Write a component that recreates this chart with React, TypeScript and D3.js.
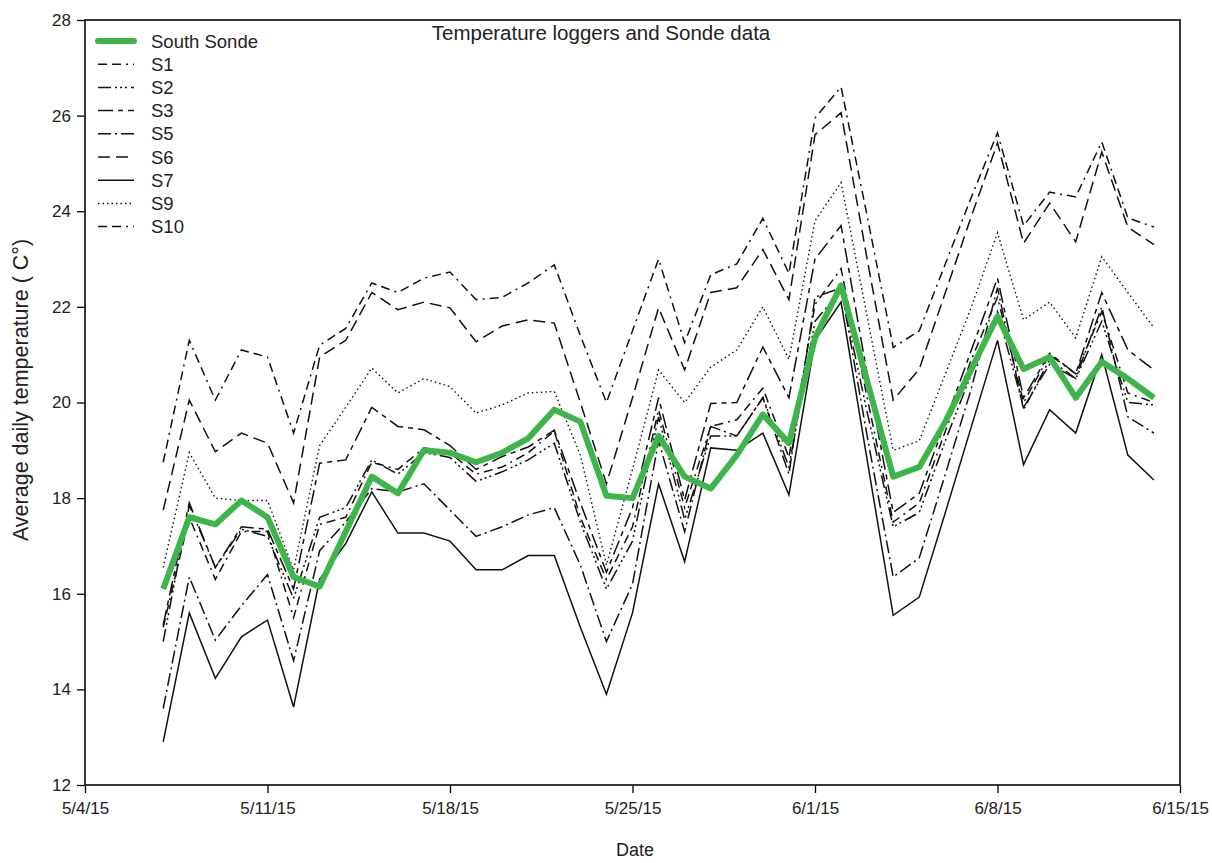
import React, { useEffect, useRef } from 'react';
import * as d3 from 'd3';

// daily dates 5/7/15 .. 6/14/15
const days = [
  '2015-05-07', '2015-05-08', '2015-05-09', '2015-05-10', '2015-05-11', '2015-05-12', '2015-05-13',
  '2015-05-14', '2015-05-15', '2015-05-16', '2015-05-17', '2015-05-18', '2015-05-19', '2015-05-20',
  '2015-05-21', '2015-05-22', '2015-05-23', '2015-05-24', '2015-05-25', '2015-05-26', '2015-05-27',
  '2015-05-28', '2015-05-29', '2015-05-30', '2015-05-31', '2015-06-01', '2015-06-02', '2015-06-03',
  '2015-06-04', '2015-06-05', '2015-06-06', '2015-06-07', '2015-06-08', '2015-06-09', '2015-06-10',
  '2015-06-11', '2015-06-12', '2015-06-13', '2015-06-14',
];

const southSonde = [16.1, 17.6, 17.45, 17.95, 17.6, 16.35, 16.15, 17.3, 18.45, 18.1, 19.0, 18.95, 18.75, 18.95, 19.25, 19.85, 19.6, 18.05, 18.0, 19.3, 18.45, 18.2, 18.9, 19.75, 19.15, 21.35, 22.45, 20.45, 18.45, 18.65, 19.6, 20.7, 21.8, 20.7, 20.95, 20.1, 20.85, 20.5, 20.1];
const s1 = [15.3, 17.6, 16.3, 17.3, 17.3, 15.5, 17.45, 17.6, 18.75, 18.6, 19.05, 18.95, 18.5, 18.65, 18.95, 19.4, 17.6, 16.3, 17.4, 19.85, 17.8, 19.5, 19.64, 20.3, 18.85, 22.05, 22.8, 20.1, 17.5, 17.9, 19.4, 20.9, 22.2, 20.0, 21.0, 20.6, 21.9, 20.2, 20.0];
const s2 = [15.0, 17.85, 16.55, 17.35, 17.2, 15.9, 17.6, 17.8, 18.8, 18.5, 18.95, 18.85, 18.35, 18.55, 18.8, 19.15, 17.5, 16.1, 17.1, 19.7, 17.55, 19.3, 19.3, 20.1, 18.65, 21.7, 22.35, 19.8, 17.4, 17.7, 19.2, 20.6, 21.9, 19.9, 20.8, 20.5, 21.7, 20.0, 19.95];
const s3 = [15.35, 17.9, 16.55, 17.4, 17.35, 16.1, 18.73, 18.8, 19.9, 19.5, 19.43, 19.1, 18.6, 18.87, 19.07, 19.42, 17.9, 16.45, 17.8, 20.1, 17.96, 19.98, 20.0, 21.16, 20.1, 23.0, 23.7, 20.6, 17.7, 18.1, 19.6, 21.1, 22.6, 20.1, 21.03, 20.6, 22.3, 21.1, 20.68];
const s5 = [13.6, 16.35, 15.03, 15.75, 16.4, 14.6, 16.9, 17.5, 18.2, 18.13, 18.3, 17.75, 17.2, 17.4, 17.65, 17.8, 16.6, 15.0, 16.2, 19.2, 17.3, 19.5, 19.3, 20.1, 18.5, 22.2, 22.4, 19.3, 16.35, 16.75, 18.5, 20.3, 22.4, 19.85, 20.9, 20.5, 22.0, 19.7, 19.36];
const s6 = [17.75, 20.05, 18.97, 19.36, 19.15, 17.9, 20.95, 21.3, 22.3, 21.94, 22.1, 21.98, 21.27, 21.6, 21.73, 21.66, 20.0, 18.3, 20.1, 21.98, 20.68, 22.3, 22.4, 23.2, 22.15, 25.6, 26.06, 23.0, 20.05, 20.7, 22.3, 23.9, 25.43, 23.33, 24.17, 23.36, 25.24, 23.67, 23.3];
const s7 = [12.9, 15.6, 14.23, 15.1, 15.45, 13.63, 16.3, 17.05, 18.13, 17.27, 17.27, 17.1, 16.5, 16.5, 16.8, 16.8, 15.3, 13.9, 15.6, 18.3, 16.67, 19.05, 19.0, 19.36, 18.07, 21.3, 22.1, 18.8, 15.55, 15.93, 17.7, 19.5, 21.3, 18.7, 19.85, 19.36, 21.0, 18.9, 18.38];
const s9 = [16.55, 18.95, 18.0, 17.95, 17.95, 16.5, 19.1, 19.9, 20.72, 20.2, 20.5, 20.33, 19.78, 19.95, 20.2, 20.23, 18.9, 16.6, 18.6, 20.68, 20.0, 20.74, 21.1, 22.0, 20.9, 23.8, 24.6, 21.8, 19.0, 19.2, 20.6, 22.0, 23.55, 21.73, 22.1, 21.35, 23.05, 22.3, 21.56];
const s10 = [18.75, 21.3, 20.05, 21.1, 20.95, 19.36, 21.2, 21.55, 22.5, 22.3, 22.6, 22.73, 22.15, 22.2, 22.5, 22.88, 21.4, 20.0, 21.5, 23.0, 21.25, 22.67, 22.9, 23.85, 22.7, 25.95, 26.6, 23.9, 21.15, 21.5, 22.9, 24.3, 25.64, 23.7, 24.4, 24.3, 25.45, 23.86, 23.67];

const yTicks = [12, 14, 16, 18, 20, 22, 24, 26, 28];
const xTickDates = ['2015-05-04', '2015-05-11', '2015-05-18', '2015-05-25', '2015-06-01', '2015-06-08', '2015-06-15'];

const blackSeries = [
  { name: 'S1', values: s1, dash: '9,5,9,5,2,5' },
  { name: 'S2', values: s2, dash: '13,4,2,3,2,3,2,4' },
  { name: 'S3', values: s3, dash: '15,5,5,5' },
  { name: 'S5', values: s5, dash: '13,4,2,4' },
  { name: 'S6', values: s6, dash: '12,6' },
  { name: 'S7', values: s7, dash: null },
  { name: 'S9', values: s9, dash: '1.5,3' },
  { name: 'S10', values: s10, dash: '9,5,9,5,2,5' },
];

const W = 1212;
const H = 863;
const FONT = "Arial, 'Liberation Sans', sans-serif";

export default function App() {
  const svgRef = useRef<SVGSVGElement>(null);

  useEffect(() => {
    document.body.style.margin = '0';
    const parse = d3.timeParse('%Y-%m-%d');
    const margin = { top: 20, right: W - 1180, bottom: H - 785, left: 85 };

    const svg = d3.select(svgRef.current);
    svg.selectAll('*').remove();

    const x = d3.scaleTime()
      .domain([parse('2015-05-04')!, parse('2015-06-15')!])
      .range([margin.left, W - margin.right]);
    const y = d3.scaleLinear().domain([12, 28]).range([H - margin.bottom, margin.top]);

    const dates = days.map(d => parse(d)!);

    svg.append('rect')
      .attr('width', W).attr('height', H).attr('fill', '#fff');

    // Axes
    svg.append('g')
      .attr('transform', `translate(0,${H - margin.bottom})`)
      .call(d3.axisBottom(x)
        .tickValues(xTickDates.map(d => parse(d)!))
        .tickFormat(d3.timeFormat('%-m/%-d/%y') as any)
        .tickSize(8).tickPadding(9))
      .call(g => g.select('.domain').remove())
      .call(g => g.selectAll('.tick line').attr('stroke', '#000').attr('stroke-width', 1.3))
      .call(g => g.selectAll('.tick text').attr('fill', '#222').style('font-size', '17px').style('font-family', FONT));

    svg.append('g')
      .attr('transform', `translate(${margin.left},0)`)
      .call(d3.axisLeft(y).tickValues(yTicks).tickSize(8).tickPadding(6))
      .call(g => g.select('.domain').remove())
      .call(g => g.selectAll('.tick line').attr('stroke', '#000').attr('stroke-width', 1.3))
      .call(g => g.selectAll('.tick text').attr('fill', '#222').style('font-size', '17px').style('font-family', FONT));

    // Frame
    svg.append('rect')
      .attr('x', margin.left).attr('y', margin.top)
      .attr('width', W - margin.right - margin.left)
      .attr('height', H - margin.bottom - margin.top)
      .attr('fill', 'none').attr('stroke', '#222').attr('stroke-width', 1.8);

    const line = d3.line<number>()
      .x((d, i) => x(dates[i]))
      .y(d => y(d));

    const plot = svg.append('g');
    blackSeries.forEach(s => {
      plot.append('path')
        .attr('d', line(s.values))
        .attr('fill', 'none')
        .attr('stroke', '#111')
        .attr('stroke-width', s.name === 'S9' ? 1.4 : 1.5)
        .attr('stroke-dasharray', s.dash)
        .attr('stroke-linejoin', 'miter');
    });

    plot.append('path')
      .attr('d', line(southSonde))
      .attr('fill', 'none')
      .attr('stroke', '#3db54a')
      .attr('stroke-width', 6)
      .attr('stroke-linejoin', 'round');

    // Legend
    const legendItems = [
      { name: 'South Sonde', dash: null, green: true },
      ...blackSeries.map(s => ({ name: s.name, dash: s.dash, green: false })),
    ];
    const lg = svg.append('g');
    legendItems.forEach((it, i) => {
      const ly = 41 + i * 23.2;
      lg.append('line')
        .attr('x1', 98).attr('x2', 134).attr('y1', ly).attr('y2', ly)
        .attr('stroke', it.green ? '#3db54a' : '#111')
        .attr('stroke-width', it.green ? 6 : 1.5)
        .attr('stroke-linecap', it.green ? 'round' : 'butt')
        .attr('stroke-dasharray', it.dash);
      lg.append('text')
        .attr('x', 151).attr('y', ly + 6.5)
        .attr('fill', '#222')
        .style('font-size', '18.5px').style('font-family', FONT)
        .text(it.name);
    });

    // Title & axis labels
    svg.append('text')
      .attr('x', 601).attr('y', 40)
      .attr('text-anchor', 'middle')
      .attr('fill', '#222')
      .style('font-size', '20.5px').style('font-family', FONT)
      .text('Temperature loggers and Sonde data');

    svg.append('text')
      .attr('x', 635).attr('y', 856)
      .attr('text-anchor', 'middle')
      .attr('fill', '#222')
      .style('font-size', '18px').style('font-family', FONT)
      .text('Date');

    svg.append('text')
      .attr('transform', `translate(28,390) rotate(-90)`)
      .attr('text-anchor', 'middle')
      .attr('fill', '#222')
      .style('font-size', '21.5px').style('font-family', FONT)
      .text('Average daily temperature ( C°)');
  }, []);

  return <svg ref={svgRef} width={W} height={H} style={{ display: 'block' }} />;
}
